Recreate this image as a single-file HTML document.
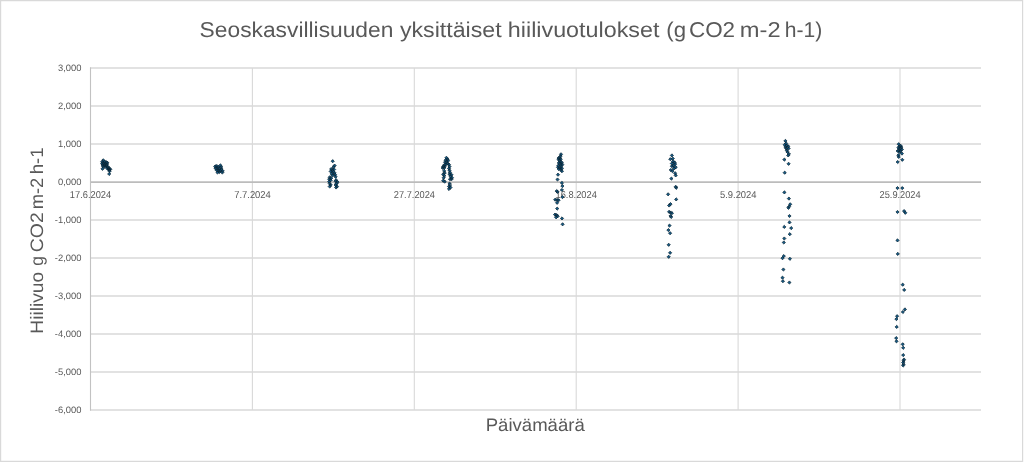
<!DOCTYPE html><html><head><meta charset="utf-8"><title>Seoskasvillisuuden yksittäiset hiilivuotulokset</title><style>html,body{margin:0;padding:0;background:#fff;}svg{display:block;}text{font-family:"Liberation Sans",Arial,sans-serif;fill:#595959;text-rendering:geometricPrecision;}</style></head><body>
<svg width="1024" height="462" viewBox="0 0 1024 462">
<rect x="0" y="0" width="1024" height="462" fill="#fff"/>
<path d="M0 0.6H1023.2M0.6 0V462M1022.6 0V462M0 461.3H1023.2" stroke="#d9d9d9" stroke-width="1.2" fill="none"/>
<path d="M90.5 68.0H981.0 M90.5 106.0H981.0 M90.5 144.0H981.0 M90.5 220.0H981.0 M90.5 258.0H981.0 M90.5 296.0H981.0 M90.5 334.0H981.0 M90.5 372.0H981.0 M90.5 410.0H981.0" stroke="#d9d9d9" stroke-width="1.6" fill="none"/>
<path d="M252.40 68.0V410.0 M414.30 68.0V410.0 M576.20 68.0V410.0 M738.10 68.0V410.0 M900.00 68.0V410.0" stroke="#d9d9d9" stroke-width="1.1" fill="none"/>
<path d="M90.5 182.2H981.0" stroke="#bcbcbc" stroke-width="1.7" fill="none"/>
<path d="M90.5 67.2V410.8" stroke="#c2c2c2" stroke-width="1.1" fill="none"/>
<text x="81.4" y="71.0" font-size="9.4" text-anchor="end">3,000</text>
<text x="81.4" y="109.0" font-size="9.4" text-anchor="end">2,000</text>
<text x="81.4" y="147.0" font-size="9.4" text-anchor="end">1,000</text>
<text x="81.4" y="185.0" font-size="9.4" text-anchor="end">0,000</text>
<text x="81.4" y="223.0" font-size="9.4" text-anchor="end">-1,000</text>
<text x="81.4" y="261.0" font-size="9.4" text-anchor="end">-2,000</text>
<text x="81.4" y="299.0" font-size="9.4" text-anchor="end">-3,000</text>
<text x="81.4" y="337.0" font-size="9.4" text-anchor="end">-4,000</text>
<text x="81.4" y="375.0" font-size="9.4" text-anchor="end">-5,000</text>
<text x="81.4" y="413.0" font-size="9.4" text-anchor="end">-6,000</text>
<text x="69.80" y="197.8" font-size="10.0" textLength="41.37" lengthAdjust="spacingAndGlyphs">17.6.2024</text>
<text x="234.18" y="197.8" font-size="10.0" textLength="36.68" lengthAdjust="spacingAndGlyphs">7.7.2024</text>
<text x="393.84" y="197.8" font-size="10.0" textLength="41.13" lengthAdjust="spacingAndGlyphs">27.7.2024</text>
<text x="555.50" y="197.8" font-size="10.0" textLength="41.37" lengthAdjust="spacingAndGlyphs">16.8.2024</text>
<text x="719.97" y="197.8" font-size="10.0" textLength="36.58" lengthAdjust="spacingAndGlyphs">5.9.2024</text>
<text x="879.54" y="197.8" font-size="10.0" textLength="41.13" lengthAdjust="spacingAndGlyphs">25.9.2024</text>
<text x="199.64" y="37.2" font-size="21.5" textLength="193.75" lengthAdjust="spacingAndGlyphs">Seoskasvillisuuden</text>
<text x="399.95" y="37.2" font-size="21.5" textLength="101.66" lengthAdjust="spacingAndGlyphs">yksittäiset</text>
<text x="507.87" y="37.2" font-size="21.5" textLength="151.51" lengthAdjust="spacingAndGlyphs">hiilivuotulokset</text>
<text x="666.30" y="37.2" font-size="21.5" textLength="19.76" lengthAdjust="spacingAndGlyphs">(g</text>
<text x="688.95" y="37.2" font-size="21.5" textLength="46.15" lengthAdjust="spacingAndGlyphs">CO2</text>
<text x="739.80" y="37.2" font-size="21.5" textLength="40.78" lengthAdjust="spacingAndGlyphs">m-2</text>
<text x="784.83" y="37.2" font-size="21.5" textLength="37.48" lengthAdjust="spacingAndGlyphs">h-1)</text>
<text x="485.75" y="430.9" font-size="18" textLength="98.94" lengthAdjust="spacingAndGlyphs">Päivämäärä</text>
<g transform="translate(43.2 340.0) rotate(-90)">
<text x="6.30" y="0" font-size="18" textLength="61.92" lengthAdjust="spacingAndGlyphs">Hiilivuo</text>
<text x="74.27" y="0" font-size="18" textLength="9.76" lengthAdjust="spacingAndGlyphs">g</text>
<text x="87.83" y="0" font-size="18" textLength="39.95" lengthAdjust="spacingAndGlyphs">CO2</text>
<text x="130.78" y="0" font-size="18" textLength="31.54" lengthAdjust="spacingAndGlyphs">m-2</text>
<text x="165.71" y="0" font-size="18" textLength="26.89" lengthAdjust="spacingAndGlyphs">h-1</text>
</g>
<path d="M103.3 158.7l1.6 1.6l-1.6 1.6l-1.6 -1.6zM102.2 160.2l1.6 1.6l-1.6 1.6l-1.6 -1.6zM104.6 160.0l1.6 1.6l-1.6 1.6l-1.6 -1.6zM106.3 160.6l1.6 1.6l-1.6 1.6l-1.6 -1.6zM102.2 161.9l1.6 1.6l-1.6 1.6l-1.6 -1.6zM104.0 161.7l1.6 1.6l-1.6 1.6l-1.6 -1.6zM105.8 162.4l1.6 1.6l-1.6 1.6l-1.6 -1.6zM102.5 163.4l1.6 1.6l-1.6 1.6l-1.6 -1.6zM104.3 163.4l1.6 1.6l-1.6 1.6l-1.6 -1.6zM106.2 164.0l1.6 1.6l-1.6 1.6l-1.6 -1.6zM107.5 164.9l1.6 1.6l-1.6 1.6l-1.6 -1.6zM108.5 165.9l1.6 1.6l-1.6 1.6l-1.6 -1.6zM109.3 167.2l1.6 1.6l-1.6 1.6l-1.6 -1.6zM108.2 167.7l1.6 1.6l-1.6 1.6l-1.6 -1.6zM109.5 168.4l1.6 1.6l-1.6 1.6l-1.6 -1.6zM102.5 167.2l1.6 1.6l-1.6 1.6l-1.6 -1.6zM109.2 172.4l1.6 1.6l-1.6 1.6l-1.6 -1.6zM103.2 165.0l1.6 1.6l-1.6 1.6l-1.6 -1.6zM105.0 165.2l1.6 1.6l-1.6 1.6l-1.6 -1.6zM106.8 163.0l1.6 1.6l-1.6 1.6l-1.6 -1.6zM107.4 161.2l1.6 1.6l-1.6 1.6l-1.6 -1.6zM110.3 167.7l1.6 1.6l-1.6 1.6l-1.6 -1.6zM109.6 169.6l1.6 1.6l-1.6 1.6l-1.6 -1.6zM107.3 166.6l1.6 1.6l-1.6 1.6l-1.6 -1.6zM215.2 164.8l1.6 1.6l-1.6 1.6l-1.6 -1.6zM216.8 164.4l1.6 1.6l-1.6 1.6l-1.6 -1.6zM218.3 165.4l1.6 1.6l-1.6 1.6l-1.6 -1.6zM220.4 163.8l1.6 1.6l-1.6 1.6l-1.6 -1.6zM221.2 165.4l1.6 1.6l-1.6 1.6l-1.6 -1.6zM215.5 166.7l1.6 1.6l-1.6 1.6l-1.6 -1.6zM217.3 166.9l1.6 1.6l-1.6 1.6l-1.6 -1.6zM219.3 166.9l1.6 1.6l-1.6 1.6l-1.6 -1.6zM221.5 167.4l1.6 1.6l-1.6 1.6l-1.6 -1.6zM216.7 168.6l1.6 1.6l-1.6 1.6l-1.6 -1.6zM218.5 168.9l1.6 1.6l-1.6 1.6l-1.6 -1.6zM220.3 168.9l1.6 1.6l-1.6 1.6l-1.6 -1.6zM222.7 169.4l1.6 1.6l-1.6 1.6l-1.6 -1.6zM217.5 170.9l1.6 1.6l-1.6 1.6l-1.6 -1.6zM219.5 170.4l1.6 1.6l-1.6 1.6l-1.6 -1.6zM222.3 170.9l1.6 1.6l-1.6 1.6l-1.6 -1.6zM332.7 159.6l1.6 1.6l-1.6 1.6l-1.6 -1.6zM334.6 164.0l1.6 1.6l-1.6 1.6l-1.6 -1.6zM333.6 165.4l1.6 1.6l-1.6 1.6l-1.6 -1.6zM331.2 167.4l1.6 1.6l-1.6 1.6l-1.6 -1.6zM332.2 168.4l1.6 1.6l-1.6 1.6l-1.6 -1.6zM334.1 167.9l1.6 1.6l-1.6 1.6l-1.6 -1.6zM330.7 169.8l1.6 1.6l-1.6 1.6l-1.6 -1.6zM333.1 170.3l1.6 1.6l-1.6 1.6l-1.6 -1.6zM334.6 171.3l1.6 1.6l-1.6 1.6l-1.6 -1.6zM331.7 172.3l1.6 1.6l-1.6 1.6l-1.6 -1.6zM335.1 173.2l1.6 1.6l-1.6 1.6l-1.6 -1.6zM332.7 173.7l1.6 1.6l-1.6 1.6l-1.6 -1.6zM329.7 175.7l1.6 1.6l-1.6 1.6l-1.6 -1.6zM335.6 175.2l1.6 1.6l-1.6 1.6l-1.6 -1.6zM331.2 176.6l1.6 1.6l-1.6 1.6l-1.6 -1.6zM329.2 177.6l1.6 1.6l-1.6 1.6l-1.6 -1.6zM330.7 178.6l1.6 1.6l-1.6 1.6l-1.6 -1.6zM336.1 178.6l1.6 1.6l-1.6 1.6l-1.6 -1.6zM329.2 180.0l1.6 1.6l-1.6 1.6l-1.6 -1.6zM335.6 179.6l1.6 1.6l-1.6 1.6l-1.6 -1.6zM337.5 180.5l1.6 1.6l-1.6 1.6l-1.6 -1.6zM329.7 182.0l1.6 1.6l-1.6 1.6l-1.6 -1.6zM336.6 182.0l1.6 1.6l-1.6 1.6l-1.6 -1.6zM330.7 183.4l1.6 1.6l-1.6 1.6l-1.6 -1.6zM335.6 183.4l1.6 1.6l-1.6 1.6l-1.6 -1.6zM337.0 184.9l1.6 1.6l-1.6 1.6l-1.6 -1.6zM329.7 184.9l1.6 1.6l-1.6 1.6l-1.6 -1.6zM336.1 185.9l1.6 1.6l-1.6 1.6l-1.6 -1.6zM446.4 156.2l1.6 1.6l-1.6 1.6l-1.6 -1.6zM447.6 157.6l1.6 1.6l-1.6 1.6l-1.6 -1.6zM445.6 158.6l1.6 1.6l-1.6 1.6l-1.6 -1.6zM448.1 159.1l1.6 1.6l-1.6 1.6l-1.6 -1.6zM445.1 160.6l1.6 1.6l-1.6 1.6l-1.6 -1.6zM446.6 160.6l1.6 1.6l-1.6 1.6l-1.6 -1.6zM447.6 162.0l1.6 1.6l-1.6 1.6l-1.6 -1.6zM449.0 163.0l1.6 1.6l-1.6 1.6l-1.6 -1.6zM444.2 163.5l1.6 1.6l-1.6 1.6l-1.6 -1.6zM445.6 163.0l1.6 1.6l-1.6 1.6l-1.6 -1.6zM443.2 165.0l1.6 1.6l-1.6 1.6l-1.6 -1.6zM444.7 165.0l1.6 1.6l-1.6 1.6l-1.6 -1.6zM449.5 165.0l1.6 1.6l-1.6 1.6l-1.6 -1.6zM442.7 166.4l1.6 1.6l-1.6 1.6l-1.6 -1.6zM444.2 166.4l1.6 1.6l-1.6 1.6l-1.6 -1.6zM449.0 166.9l1.6 1.6l-1.6 1.6l-1.6 -1.6zM449.5 168.8l1.6 1.6l-1.6 1.6l-1.6 -1.6zM444.2 169.3l1.6 1.6l-1.6 1.6l-1.6 -1.6zM444.7 171.3l1.6 1.6l-1.6 1.6l-1.6 -1.6zM450.0 170.8l1.6 1.6l-1.6 1.6l-1.6 -1.6zM443.2 172.7l1.6 1.6l-1.6 1.6l-1.6 -1.6zM449.5 172.7l1.6 1.6l-1.6 1.6l-1.6 -1.6zM451.5 173.2l1.6 1.6l-1.6 1.6l-1.6 -1.6zM444.2 174.2l1.6 1.6l-1.6 1.6l-1.6 -1.6zM450.5 174.7l1.6 1.6l-1.6 1.6l-1.6 -1.6zM443.7 176.2l1.6 1.6l-1.6 1.6l-1.6 -1.6zM452.0 176.2l1.6 1.6l-1.6 1.6l-1.6 -1.6zM450.0 177.6l1.6 1.6l-1.6 1.6l-1.6 -1.6zM443.2 179.1l1.6 1.6l-1.6 1.6l-1.6 -1.6zM444.7 180.0l1.6 1.6l-1.6 1.6l-1.6 -1.6zM451.5 177.6l1.6 1.6l-1.6 1.6l-1.6 -1.6zM449.5 182.0l1.6 1.6l-1.6 1.6l-1.6 -1.6zM450.0 183.4l1.6 1.6l-1.6 1.6l-1.6 -1.6zM449.0 184.9l1.6 1.6l-1.6 1.6l-1.6 -1.6zM450.5 185.9l1.6 1.6l-1.6 1.6l-1.6 -1.6zM449.0 187.4l1.6 1.6l-1.6 1.6l-1.6 -1.6zM561.0 152.7l1.6 1.6l-1.6 1.6l-1.6 -1.6zM560.6 154.5l1.6 1.6l-1.6 1.6l-1.6 -1.6zM558.8 156.2l1.6 1.6l-1.6 1.6l-1.6 -1.6zM560.1 156.6l1.6 1.6l-1.6 1.6l-1.6 -1.6zM558.4 157.5l1.6 1.6l-1.6 1.6l-1.6 -1.6zM560.6 157.9l1.6 1.6l-1.6 1.6l-1.6 -1.6zM559.3 159.2l1.6 1.6l-1.6 1.6l-1.6 -1.6zM561.0 160.1l1.6 1.6l-1.6 1.6l-1.6 -1.6zM558.8 161.4l1.6 1.6l-1.6 1.6l-1.6 -1.6zM561.9 161.4l1.6 1.6l-1.6 1.6l-1.6 -1.6zM560.1 162.3l1.6 1.6l-1.6 1.6l-1.6 -1.6zM562.3 163.1l1.6 1.6l-1.6 1.6l-1.6 -1.6zM558.4 164.0l1.6 1.6l-1.6 1.6l-1.6 -1.6zM561.0 164.4l1.6 1.6l-1.6 1.6l-1.6 -1.6zM558.0 165.7l1.6 1.6l-1.6 1.6l-1.6 -1.6zM560.1 166.2l1.6 1.6l-1.6 1.6l-1.6 -1.6zM561.9 166.6l1.6 1.6l-1.6 1.6l-1.6 -1.6zM558.8 167.5l1.6 1.6l-1.6 1.6l-1.6 -1.6zM561.0 168.3l1.6 1.6l-1.6 1.6l-1.6 -1.6zM561.9 169.6l1.6 1.6l-1.6 1.6l-1.6 -1.6zM558.0 173.1l1.6 1.6l-1.6 1.6l-1.6 -1.6zM557.5 177.9l1.6 1.6l-1.6 1.6l-1.6 -1.6zM561.9 181.3l1.6 1.6l-1.6 1.6l-1.6 -1.6zM562.4 184.5l1.6 1.6l-1.6 1.6l-1.6 -1.6zM561.9 188.4l1.6 1.6l-1.6 1.6l-1.6 -1.6zM556.7 189.5l1.6 1.6l-1.6 1.6l-1.6 -1.6zM557.6 190.3l1.6 1.6l-1.6 1.6l-1.6 -1.6zM562.4 195.5l1.6 1.6l-1.6 1.6l-1.6 -1.6zM555.2 198.1l1.6 1.6l-1.6 1.6l-1.6 -1.6zM557.1 198.3l1.6 1.6l-1.6 1.6l-1.6 -1.6zM558.6 198.6l1.6 1.6l-1.6 1.6l-1.6 -1.6zM557.1 201.2l1.6 1.6l-1.6 1.6l-1.6 -1.6zM557.2 207.0l1.6 1.6l-1.6 1.6l-1.6 -1.6zM555.0 213.0l1.6 1.6l-1.6 1.6l-1.6 -1.6zM556.6 213.5l1.6 1.6l-1.6 1.6l-1.6 -1.6zM557.7 214.6l1.6 1.6l-1.6 1.6l-1.6 -1.6zM556.1 215.7l1.6 1.6l-1.6 1.6l-1.6 -1.6zM562.0 216.8l1.6 1.6l-1.6 1.6l-1.6 -1.6zM562.6 222.7l1.6 1.6l-1.6 1.6l-1.6 -1.6zM671.9 153.8l1.6 1.6l-1.6 1.6l-1.6 -1.6zM670.3 157.6l1.6 1.6l-1.6 1.6l-1.6 -1.6zM672.8 157.0l1.6 1.6l-1.6 1.6l-1.6 -1.6zM673.0 159.8l1.6 1.6l-1.6 1.6l-1.6 -1.6zM674.6 160.8l1.6 1.6l-1.6 1.6l-1.6 -1.6zM671.9 161.9l1.6 1.6l-1.6 1.6l-1.6 -1.6zM675.1 162.5l1.6 1.6l-1.6 1.6l-1.6 -1.6zM673.5 164.1l1.6 1.6l-1.6 1.6l-1.6 -1.6zM671.9 164.6l1.6 1.6l-1.6 1.6l-1.6 -1.6zM675.7 165.7l1.6 1.6l-1.6 1.6l-1.6 -1.6zM674.0 166.8l1.6 1.6l-1.6 1.6l-1.6 -1.6zM670.8 168.4l1.6 1.6l-1.6 1.6l-1.6 -1.6zM672.4 169.5l1.6 1.6l-1.6 1.6l-1.6 -1.6zM675.1 171.6l1.6 1.6l-1.6 1.6l-1.6 -1.6zM675.7 173.8l1.6 1.6l-1.6 1.6l-1.6 -1.6zM671.4 177.0l1.6 1.6l-1.6 1.6l-1.6 -1.6zM675.7 185.2l1.6 1.6l-1.6 1.6l-1.6 -1.6zM676.2 186.2l1.6 1.6l-1.6 1.6l-1.6 -1.6zM668.1 192.7l1.6 1.6l-1.6 1.6l-1.6 -1.6zM676.2 197.8l1.6 1.6l-1.6 1.6l-1.6 -1.6zM670.5 202.5l1.6 1.6l-1.6 1.6l-1.6 -1.6zM669.1 203.9l1.6 1.6l-1.6 1.6l-1.6 -1.6zM669.1 210.2l1.6 1.6l-1.6 1.6l-1.6 -1.6zM670.5 210.9l1.6 1.6l-1.6 1.6l-1.6 -1.6zM671.9 211.6l1.6 1.6l-1.6 1.6l-1.6 -1.6zM670.5 214.4l1.6 1.6l-1.6 1.6l-1.6 -1.6zM671.2 215.4l1.6 1.6l-1.6 1.6l-1.6 -1.6zM669.5 224.0l1.6 1.6l-1.6 1.6l-1.6 -1.6zM668.4 228.5l1.6 1.6l-1.6 1.6l-1.6 -1.6zM670.1 231.6l1.6 1.6l-1.6 1.6l-1.6 -1.6zM668.7 243.2l1.6 1.6l-1.6 1.6l-1.6 -1.6zM670.1 251.2l1.6 1.6l-1.6 1.6l-1.6 -1.6zM668.7 255.2l1.6 1.6l-1.6 1.6l-1.6 -1.6zM785.4 139.3l1.6 1.6l-1.6 1.6l-1.6 -1.6zM786.1 141.8l1.6 1.6l-1.6 1.6l-1.6 -1.6zM784.7 143.2l1.6 1.6l-1.6 1.6l-1.6 -1.6zM786.8 144.0l1.6 1.6l-1.6 1.6l-1.6 -1.6zM785.4 145.4l1.6 1.6l-1.6 1.6l-1.6 -1.6zM788.2 144.7l1.6 1.6l-1.6 1.6l-1.6 -1.6zM786.1 146.8l1.6 1.6l-1.6 1.6l-1.6 -1.6zM788.6 146.8l1.6 1.6l-1.6 1.6l-1.6 -1.6zM786.8 148.9l1.6 1.6l-1.6 1.6l-1.6 -1.6zM787.5 150.3l1.6 1.6l-1.6 1.6l-1.6 -1.6zM788.9 152.4l1.6 1.6l-1.6 1.6l-1.6 -1.6zM788.2 153.8l1.6 1.6l-1.6 1.6l-1.6 -1.6zM784.4 158.0l1.6 1.6l-1.6 1.6l-1.6 -1.6zM788.6 162.2l1.6 1.6l-1.6 1.6l-1.6 -1.6zM784.7 171.1l1.6 1.6l-1.6 1.6l-1.6 -1.6zM784.4 190.8l1.6 1.6l-1.6 1.6l-1.6 -1.6zM788.9 197.0l1.6 1.6l-1.6 1.6l-1.6 -1.6zM790.2 202.7l1.6 1.6l-1.6 1.6l-1.6 -1.6zM789.1 205.0l1.6 1.6l-1.6 1.6l-1.6 -1.6zM788.4 206.2l1.6 1.6l-1.6 1.6l-1.6 -1.6zM789.5 214.4l1.6 1.6l-1.6 1.6l-1.6 -1.6zM789.5 220.8l1.6 1.6l-1.6 1.6l-1.6 -1.6zM784.3 225.3l1.6 1.6l-1.6 1.6l-1.6 -1.6zM791.2 226.5l1.6 1.6l-1.6 1.6l-1.6 -1.6zM789.8 232.6l1.6 1.6l-1.6 1.6l-1.6 -1.6zM784.3 236.9l1.6 1.6l-1.6 1.6l-1.6 -1.6zM783.8 240.9l1.6 1.6l-1.6 1.6l-1.6 -1.6zM783.8 254.5l1.6 1.6l-1.6 1.6l-1.6 -1.6zM782.5 256.6l1.6 1.6l-1.6 1.6l-1.6 -1.6zM789.9 257.2l1.6 1.6l-1.6 1.6l-1.6 -1.6zM783.4 267.9l1.6 1.6l-1.6 1.6l-1.6 -1.6zM782.5 276.1l1.6 1.6l-1.6 1.6l-1.6 -1.6zM782.9 279.6l1.6 1.6l-1.6 1.6l-1.6 -1.6zM789.4 280.9l1.6 1.6l-1.6 1.6l-1.6 -1.6zM898.7 142.6l1.6 1.6l-1.6 1.6l-1.6 -1.6zM900.6 144.2l1.6 1.6l-1.6 1.6l-1.6 -1.6zM899.3 144.9l1.6 1.6l-1.6 1.6l-1.6 -1.6zM901.3 145.5l1.6 1.6l-1.6 1.6l-1.6 -1.6zM898.4 146.2l1.6 1.6l-1.6 1.6l-1.6 -1.6zM900.3 146.8l1.6 1.6l-1.6 1.6l-1.6 -1.6zM901.9 147.8l1.6 1.6l-1.6 1.6l-1.6 -1.6zM898.7 148.8l1.6 1.6l-1.6 1.6l-1.6 -1.6zM897.7 149.4l1.6 1.6l-1.6 1.6l-1.6 -1.6zM900.6 149.4l1.6 1.6l-1.6 1.6l-1.6 -1.6zM899.7 150.4l1.6 1.6l-1.6 1.6l-1.6 -1.6zM901.9 152.0l1.6 1.6l-1.6 1.6l-1.6 -1.6zM898.4 153.6l1.6 1.6l-1.6 1.6l-1.6 -1.6zM898.7 155.3l1.6 1.6l-1.6 1.6l-1.6 -1.6zM902.3 158.2l1.6 1.6l-1.6 1.6l-1.6 -1.6zM897.7 160.4l1.6 1.6l-1.6 1.6l-1.6 -1.6zM897.5 186.5l1.6 1.6l-1.6 1.6l-1.6 -1.6zM902.3 186.5l1.6 1.6l-1.6 1.6l-1.6 -1.6zM897.5 210.4l1.6 1.6l-1.6 1.6l-1.6 -1.6zM904.1 209.5l1.6 1.6l-1.6 1.6l-1.6 -1.6zM905.3 211.2l1.6 1.6l-1.6 1.6l-1.6 -1.6zM897.5 238.8l1.6 1.6l-1.6 1.6l-1.6 -1.6zM897.8 252.3l1.6 1.6l-1.6 1.6l-1.6 -1.6zM902.7 283.1l1.6 1.6l-1.6 1.6l-1.6 -1.6zM904.2 288.3l1.6 1.6l-1.6 1.6l-1.6 -1.6zM904.9 307.8l1.6 1.6l-1.6 1.6l-1.6 -1.6zM902.9 310.4l1.6 1.6l-1.6 1.6l-1.6 -1.6zM897.1 314.6l1.6 1.6l-1.6 1.6l-1.6 -1.6zM896.4 317.5l1.6 1.6l-1.6 1.6l-1.6 -1.6zM896.7 325.3l1.6 1.6l-1.6 1.6l-1.6 -1.6zM896.2 336.5l1.6 1.6l-1.6 1.6l-1.6 -1.6zM896.5 339.7l1.6 1.6l-1.6 1.6l-1.6 -1.6zM902.7 342.7l1.6 1.6l-1.6 1.6l-1.6 -1.6zM903.2 346.2l1.6 1.6l-1.6 1.6l-1.6 -1.6zM903.2 353.5l1.6 1.6l-1.6 1.6l-1.6 -1.6zM904.0 357.9l1.6 1.6l-1.6 1.6l-1.6 -1.6zM903.6 359.2l1.6 1.6l-1.6 1.6l-1.6 -1.6zM903.2 360.9l1.6 1.6l-1.6 1.6l-1.6 -1.6zM903.6 362.6l1.6 1.6l-1.6 1.6l-1.6 -1.6zM903.2 363.9l1.6 1.6l-1.6 1.6l-1.6 -1.6z" fill="#175b86" stroke="#0a2536" stroke-width="0.75" stroke-linejoin="round"/>
</svg></body></html>
